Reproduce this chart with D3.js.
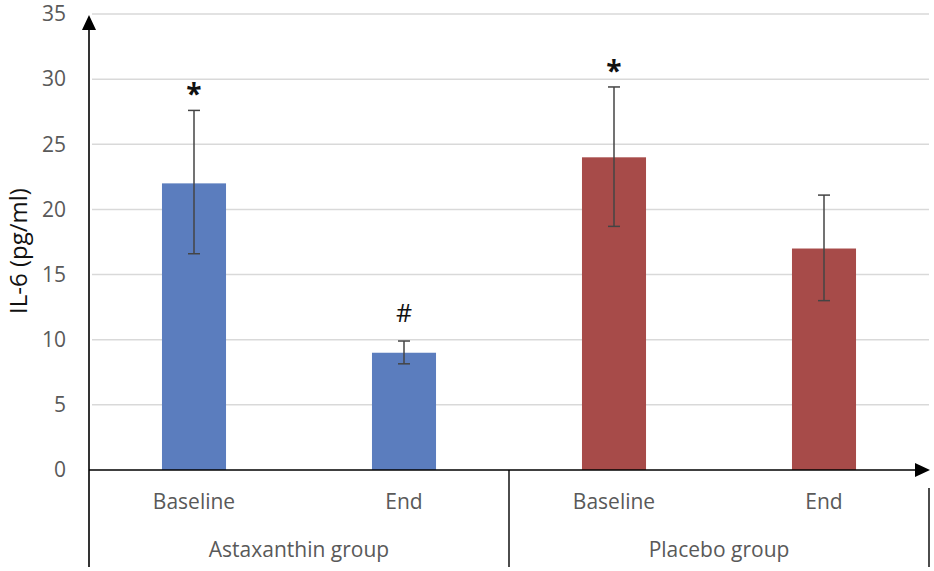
<!DOCTYPE html>
<html><head><meta charset="utf-8">
<script src="https://cdn.jsdelivr.net/npm/d3@7"></script>
<style>body{margin:0;background:#fff}svg{display:block}</style>
</head><body>
<svg id="c" width="934" height="571"></svg>
<script>
const categories = ["Baseline","End","Baseline","End"];
const groups = ["Astaxanthin group","Placebo group"];
const groupOf = [0,0,1,1];
const values = [22, 9, 24, 17];
const errPlus = [5.6, 0.9, 5.4, 4.1];
const errMinus = [5.4, 0.85, 5.3, 4.0];
const marks = ["*","#","*",""];
const colors = ["#5B7DBE","#5B7DBE","#A74B49","#A74B49"];
const yTicks = [0,5,10,15,20,25,30,35];

const svg = d3.select("#c");
const x0 = 89, x1 = 929, yTop = 14, yBot = 470;
const font = "'Open Sans', 'Liberation Sans', sans-serif";
const x = d3.scaleBand().domain(d3.range(categories.length)).range([x0, x1]).paddingInner(0.695).paddingOuter(0.3475);
const y = d3.scaleLinear().domain([0,35]).range([yBot, yTop]);

// gridlines
svg.append("g").selectAll("line").data(yTicks.filter(d=>d>0)).join("line")
  .attr("x1", x0+3).attr("x2", x1).attr("y1", d=>y(d)).attr("y2", d=>y(d))
  .attr("stroke", "#d9d9d9").attr("stroke-width", 1.5);

// tick labels
svg.append("g").selectAll("text").data(yTicks).join("text")
  .attr("x", 66).attr("y", d=>y(d)).attr("dy","0.35em").attr("text-anchor","end")
  .attr("font-family", font).attr("font-size", 21).attr("fill", "#595959").text(d=>d);

// bars
svg.append("g").selectAll("rect").data(values).join("rect")
  .attr("x", (d,i)=>x(i)).attr("width", x.bandwidth())
  .attr("y", d=>y(d)).attr("height", d=>yBot-y(d)).attr("fill", (d,i)=>colors[i]);

// error bars
const eb = svg.append("g").attr("stroke","#444").attr("stroke-width",1.5);
values.forEach((v,i)=>{
  const cx = x(i)+x.bandwidth()/2;
  eb.append("line").attr("x1",cx).attr("x2",cx).attr("y1",y(v+errPlus[i])).attr("y2",y(v-errMinus[i]));
  [v+errPlus[i], v-errMinus[i]].forEach(e=>{
    eb.append("line").attr("x1",cx-6).attr("x2",cx+6).attr("y1",y(e)).attr("y2",y(e));
  });
  if (marks[i]) {
    const isHash = marks[i]==="#";
    svg.append("text").attr("x",cx)
      .attr("y", isHash ? y(v+errPlus[i])-28 : y(v+errPlus[i])-26)
      .attr("dy", isHash ? "0.35em" : "0.7em")
      .attr("text-anchor","middle").attr("font-family",font)
      .attr("font-size", isHash ? 25 : 28)
      .attr("font-weight", isHash ? "normal" : "bold").attr("fill","#111").text(marks[i]);
  }
});

// axes
svg.append("line").attr("x1",x0).attr("x2",x0).attr("y1",yTop+14).attr("y2",567).attr("stroke","#000").attr("stroke-width",1.6);
svg.append("path").attr("d",`M${x0},${yTop+1} L${x0-7},${yTop+16} L${x0+7},${yTop+16} Z`).attr("fill","#000");
svg.append("line").attr("x1",x0).attr("x2",x1-14).attr("y1",yBot).attr("y2",yBot).attr("stroke","#000").attr("stroke-width",1.6);
svg.append("path").attr("d",`M${x1+1},${yBot} L${x1-14},${yBot-7} L${x1-14},${yBot+7} Z`).attr("fill","#000");

// group dividers
const mid = (x(1)+x.bandwidth()/2 + x(2)+x.bandwidth()/2)/2;
svg.append("line").attr("x1",mid).attr("x2",mid).attr("y1",yBot).attr("y2",567).attr("stroke","#000").attr("stroke-width",1.4);
svg.append("line").attr("x1",x1).attr("x2",x1).attr("y1",yBot+18).attr("y2",567).attr("stroke","#000").attr("stroke-width",1.4);

// category labels
svg.append("g").selectAll("text").data(categories).join("text")
  .attr("x",(d,i)=>x(i)+x.bandwidth()/2).attr("y",502).attr("dy","0.35em").attr("text-anchor","middle")
  .attr("font-family",font).attr("font-size",21).attr("fill","#595959").text(d=>d);

// group labels
groups.forEach((g,gi)=>{
  const idx = d3.range(categories.length).filter(i=>groupOf[i]===gi);
  const c = (x(idx[0]) + x(idx[idx.length-1]) + x.bandwidth())/2;
  svg.append("text").attr("x",c).attr("y",550).attr("dy","0.35em").attr("text-anchor","middle")
    .attr("font-family",font).attr("font-size",21).attr("fill","#595959").text(g);
});

// y label
svg.append("text").attr("transform",`translate(19,251) rotate(-90)`).attr("dy","0.35em")
  .attr("text-anchor","middle").attr("font-family",font).attr("font-size",24).attr("fill","#111").text("IL-6 (pg/ml)");
</script>
</body></html>
